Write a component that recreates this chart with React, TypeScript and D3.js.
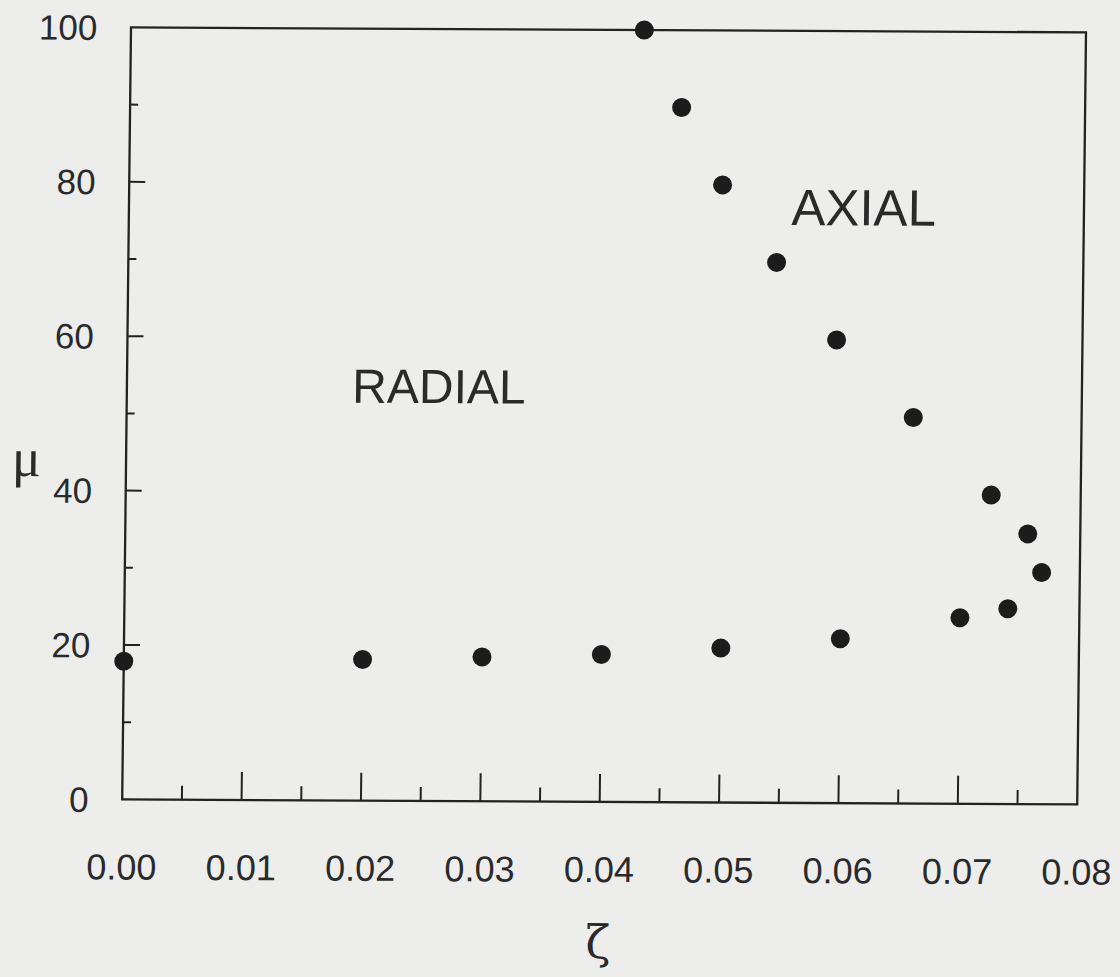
import React from "react";
import * as d3 from "d3";

const radialZeta = [0.0, 0.02, 0.03, 0.04, 0.05, 0.06, 0.07, 0.074];
const radialMu = [17.9, 18.3, 18.7, 19.1, 20.0, 21.3, 24.1, 25.3];
const axialZeta = [0.043, 0.0462, 0.0497, 0.0543, 0.0594, 0.0659, 0.0725, 0.0756, 0.0768];
const axialMu = [100, 90, 80, 70, 60, 50, 40, 35, 30];

const xMajorTicks = [0, 0.01, 0.02, 0.03, 0.04, 0.05, 0.06, 0.07, 0.08];
const xMinorTicks = [0.005, 0.015, 0.025, 0.035, 0.045, 0.055, 0.065, 0.075];
const yMajorTicks = [0, 20, 40, 60, 80, 100];
const yMinorTicks = [10, 30, 50, 70, 90];

const W = 1120;
const H = 977;
const left = 126.6, right = 1081.6, top = 29.9, bottom = 801.9;
const ink = "#222";
const font = "'Liberation Sans', Arial, Helvetica, sans-serif";
const serif = "'Liberation Serif', 'DejaVu Serif', serif";

export default function App() {
  const x = d3.scaleLinear().domain([0, 0.08]).range([left, right]);
  const y = d3.scaleLinear().domain([0, 100]).range([bottom, top]);
  const cx = 604, cy = 416;
  const sx = -0.0114, sy = 0.0052;
  const transform = `matrix(1,${sy},${sx},1,${-sx * cy},${-sy * cx})`;
  const radial = radialZeta.map((z, i) => ({ z, m: radialMu[i] }));
  const axial = axialZeta.map((z, i) => ({ z, m: axialMu[i] }));
  return (
    <svg width={W} height={H} style={{ position: "absolute", left: 0, top: 0 }}>
      <rect x={0} y={0} width={W} height={H} fill="#ededec" />
      <g transform={transform}>
        <rect x={left} y={top} width={right - left} height={bottom - top} fill="none" stroke={ink} strokeWidth={2.3} />
        {xMajorTicks.slice(1, -1).map((t) => (
          <line key={"xM" + t} x1={x(t)} x2={x(t)} y1={bottom} y2={bottom - 28} stroke={ink} strokeWidth={2} />
        ))}
        {xMinorTicks.map((t) => (
          <line key={"xm" + t} x1={x(t)} x2={x(t)} y1={bottom} y2={bottom - 14} stroke={ink} strokeWidth={2} />
        ))}
        {yMajorTicks.slice(1, -1).map((t) => (
          <line key={"yM" + t} x1={left} x2={left + 16} y1={y(t)} y2={y(t)} stroke={ink} strokeWidth={2} />
        ))}
        {yMinorTicks.map((t) => (
          <line key={"ym" + t} x1={left} x2={left + 8} y1={y(t)} y2={y(t)} stroke={ink} strokeWidth={2} />
        ))}
        {xMajorTicks.map((t) => (
          <text key={"xl" + t} x={x(t)} y={882} textAnchor="middle" fontFamily={font} fontSize={36} fill="#2a2a2a">
            {t.toFixed(2)}
          </text>
        ))}
        {yMajorTicks.map((t) => (
          <text key={"yl" + t} x={93} y={y(t) + 12.5} textAnchor="end" fontFamily={font} fontSize={35} fill="#2a2a2a">
            {String(t)}
          </text>
        ))}
        <text x={352} y={404} fontFamily={font} fontSize={48} fill="#2a2a2a">RADIAL</text>
        <text x={789} y={224} fontFamily={font} fontSize={51} fill="#2a2a2a">AXIAL</text>
        <text x={27} y={479} textAnchor="middle" fontFamily={serif} fontSize={54} fill="#2a2a2a">μ</text>
        <text x={604} y={958} textAnchor="middle" fontFamily="'DejaVu Serif', serif" fontSize={46} fill="#2a2a2a">ζ</text>
        {radial.map((d, i) => (
          <circle key={"r" + i} cx={x(d.z)} cy={y(d.m)} r={9.5} fill="#1c1c1c" />
        ))}
        {axial.map((d, i) => (
          <circle key={"a" + i} cx={x(d.z)} cy={y(d.m)} r={9.5} fill="#1c1c1c" />
        ))}
      </g>
    </svg>
  );
}
